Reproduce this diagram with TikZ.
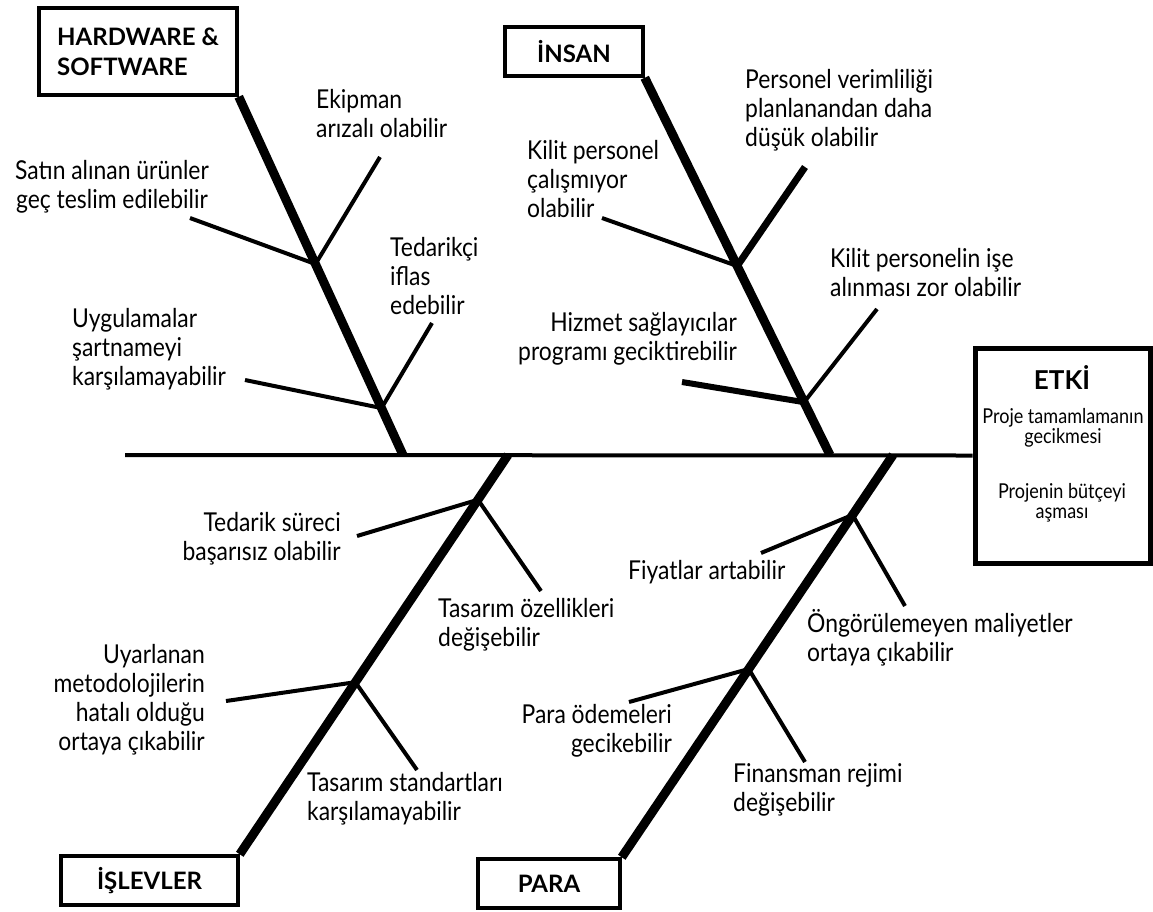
\documentclass[tikz,border=0pt]{standalone}
\usepackage{fontspec}
\setmainfont{Lato}
\newfontfamily\lblfont{Lato}[FakeStretch=0.88]
\usetikzlibrary{calc}
\begin{document}
\begin{tikzpicture}[x=1pt,y=-1pt,
  catbox/.style={draw, line width=3.5pt, font=\fontsize{24}{30}\selectfont\bfseries,
                 inner sep=0pt, minimum height=49pt},
  effbox/.style={draw, line width=5pt, minimum width=175pt, minimum height=215pt, inner sep=0pt},
  spine/.style={line width=4pt},
  bone/.style={line width=9pt},
  twig/.style={line width=4pt},
  twigmed/.style={line width=6pt},
  twigthick/.style={line width=7pt},
  lbl/.style={font=\lblfont\fontsize{26}{29}\selectfont, inner sep=0pt},
  efftxt/.style={font=\lblfont\fontsize{20.5}{20}\selectfont, inner sep=0pt, align=center}
]
\useasboundingbox (0,0) rectangle (1153,911);

% category boxes and effect box
\node[catbox, minimum width=198pt, minimum height=87pt, align=left]
  (hw) at (138,51.5) {HARDWARE \&\\SOFTWARE};
\node[catbox, minimum width=138pt] (ins) at (574,51.5) {İNSAN};
\node[catbox, minimum width=177pt] (isl) at (149.5,880.5) {İŞLEVLER};
\node[catbox, minimum width=142pt] (par) at (549,883.5) {PARA};
\node[effbox] (eff) at (1062.5,455.5) {};
\node[font=\fontsize{26}{30}\selectfont\bfseries, inner sep=0pt] (effT) at (1062,377) {ETKİ};
\node[efftxt] (eff1) at (1063,428) {Proje tamamlamanın\\gecikmesi};
\node[efftxt] (eff2) at (1062,503) {Projenin bütçeyi\\aşması};

% spine
\coordinate (spL) at (125,455);
\draw[spine] (spL) -- (eff.west);

% where the bones meet the spine
\coordinate (hwS)  at (403,455);
\coordinate (insS) at (830,455);
\coordinate (islS) at (508,455);
\coordinate (parS) at (893,455);

% main bones
\draw[bone] (hw.south east) -- (hwS);
\draw[bone] (ins.south east) -- (insS);
\draw[bone] (isl.north east) -- (islS);
\draw[bone] (par.north east) -- (parS);

% junctions on the bones
\coordinate (hwA)  at ($(hw.south east)!0.467!(hwS)$);
\coordinate (hwB)  at ($(hw.south east)!0.869!(hwS)$);
\coordinate (insA) at ($(ins.south east)!0.499!(insS)$);
\coordinate (insB) at ($(ins.south east)!0.860!(insS)$);
\coordinate (islA) at ($(isl.north east)!0.888!(islS)$);
\coordinate (islB) at ($(isl.north east)!0.431!(islS)$);
\coordinate (parA) at ($(par.north east)!0.851!(parS)$);
\coordinate (parB) at ($(par.north east)!0.468!(parS)$);

% free ends of the branches
\coordinate (hwAl)  at (190,218);  \coordinate (hwAr)  at (380,157);
\coordinate (hwBl)  at (245,380);  \coordinate (hwBr)  at (432,323);
\coordinate (insAl) at (602,218);  \coordinate (insAr) at (805,167);
\coordinate (insBl) at (682,382);  \coordinate (insBr) at (877,309);
\coordinate (islAl) at (357,536);  \coordinate (islAr) at (541,591);
\coordinate (islBl) at (226,701);  \coordinate (islBr) at (417,770);
\coordinate (parAl) at (761,553);  \coordinate (parAr) at (905,606);
\coordinate (parBl) at (629,702);  \coordinate (parBr) at (805,762);

% branches
\draw[twig] (hwA) -- (hwAl);  \draw[twig] (hwA) -- (hwAr);
\draw[twig] (hwB) -- (hwBl);  \draw[twig] (hwB) -- (hwBr);
\draw[twig] (insA) -- (insAl); \draw[twigthick] (insA) -- (insAr);
\draw[twigmed] (insB) -- (insBl); \draw[twig] (insB) -- (insBr);
\draw[twig] (islA) -- (islAl); \draw[twig] (islA) -- (islAr);
\draw[twig] (islB) -- (islBl); \draw[twig] (islB) -- (islBr);
\draw[twig] (parA) -- (parAl); \draw[twig] (parA) -- (parAr);
\draw[twig] (parB) -- (parBl); \draw[twig] (parB) -- (parBr);

% cause labels
\node[lbl, anchor=west, align=left] (tEki) at (316,114) {Ekipman\\arızalı olabilir};
\node[lbl, align=center] (tSat) at (112,187) {Satın alınan ürünler\\geç teslim edilebilir};
\node[lbl, anchor=west, align=left] (tTed) at (390,276) {Tedarikçi\\iflas\\edebilir};
\node[lbl, anchor=west, align=left] (tUyg) at (72,349) {Uygulamalar\\şartnameyi\\karşılamayabilir};
\node[lbl, anchor=west, align=left] (tKil) at (527,179) {Kilit personel\\çalışmıyor\\olabilir};
\node[lbl, anchor=west, align=left] (tPer) at (745,110) {Personel verimliliği\\planlanandan daha\\düşük olabilir};
\node[lbl, anchor=west, align=left] (tKpi) at (830,273) {Kilit personelin işe\\alınması zor olabilir};
\node[lbl, anchor=east, align=right] (tHiz) at (737,339) {Hizmet sağlayıcılar\\programı geciktirebilir};
\node[lbl, anchor=east, align=right] (tTsu) at (341,539) {Tedarik süreci\\başarısız olabilir};
\node[lbl, anchor=west, align=left] (tToz) at (438,625) {Tasarım özellikleri\\değişebilir};
\node[lbl, anchor=east, align=right] (tUya) at (205,700) {Uyarlanan\\metodolojilerin\\hatalı olduğu\\ortaya çıkabilir};
\node[lbl, anchor=west, align=left] (tTst) at (307,799) {Tasarım standartları\\karşılamayabilir};
\node[lbl, anchor=west] (tFiy) at (628,572) {Fiyatlar artabilir};
\node[lbl, anchor=west, align=left] (tOng) at (807,638) {Öngörülemeyen maliyetler\\ortaya çıkabilir};
\node[lbl, anchor=east, align=right] (tPar) at (672,731) {Para ödemeleri\\gecikebilir};
\node[lbl, anchor=west, align=left] (tFin) at (733,790) {Finansman rejimi\\değişebilir};
\end{tikzpicture}
\end{document}
